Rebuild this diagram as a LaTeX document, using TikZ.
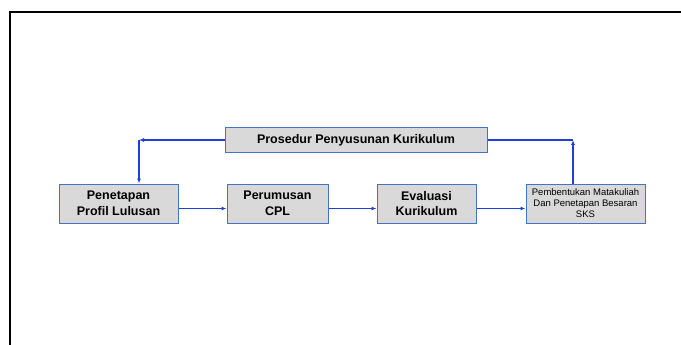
\documentclass[tikz,border=0pt]{standalone}
\usepackage{fontspec}
\setmainfont{Liberation Sans}
\usetikzlibrary{arrows.meta}
\definecolor{boxfill}{HTML}{D9D9D9}
\definecolor{boxline}{HTML}{4472C4}
\definecolor{arrblue}{HTML}{1F3FD6}
\begin{document}
\begin{tikzpicture}[x=1pt,y=-1pt,
  stepbox/.style={draw=boxline, fill=boxfill, line width=1pt, inner sep=0pt, align=center, font=\bfseries\fontsize{12.5}{15.5}\selectfont},
  arr/.style={draw=arrblue, line width=1.5pt, -{Latex[length=5pt,width=4pt]}},
  ln/.style={draw=arrblue, line width=1.5pt}]
\useasboundingbox (0,0) rectangle (681,345);
\fill[white] (0,0) rectangle (681,345);
\draw[line width=2pt, black] (10,346) -- (10,12) -- (682,12);
% boxes
\node[stepbox, minimum width=262pt, minimum height=24pt] (pros) at (356,140) {Prosedur Penyusunan Kurikulum};
\node[stepbox, minimum width=119pt, minimum height=39pt] (pen) at (118.5,203.5) {Penetapan\\Profil Lulusan};
\node[stepbox, minimum width=101pt, minimum height=39pt] (per) at (277.5,203.5) {Perumusan\\CPL};
\node[stepbox, minimum width=99pt, minimum height=39pt] (eva) at (426.5,203.5) {Evaluasi\\Kurikulum};
\node[stepbox, minimum width=119pt, minimum height=39pt, font=\fontsize{9.5}{11}\selectfont] (pem) at (585.5,203.5) {Pembentukan Matakuliah\\Dan Penetapan Besaran\\SKS};
% corners
\coordinate (cl) at (139,140);
\coordinate (cr) at (573,140);
% connectors
\draw[arr] (pros.west) -- (cl);
\draw[arr] (cl) -- (pen.north -| cl);
\draw[arr] ([yshift=-5pt]pen.east) -- ([yshift=-5pt]per.west);
\draw[arr] ([yshift=-5pt]per.east) -- ([yshift=-5pt]eva.west);
\draw[arr] ([yshift=-5pt]eva.east) -- ([yshift=-5pt]pem.west);
\draw[arr] (pem.north -| cr) -- (cr);
\draw[ln] (pros.east) -- (cr);
\end{tikzpicture}
\end{document}
